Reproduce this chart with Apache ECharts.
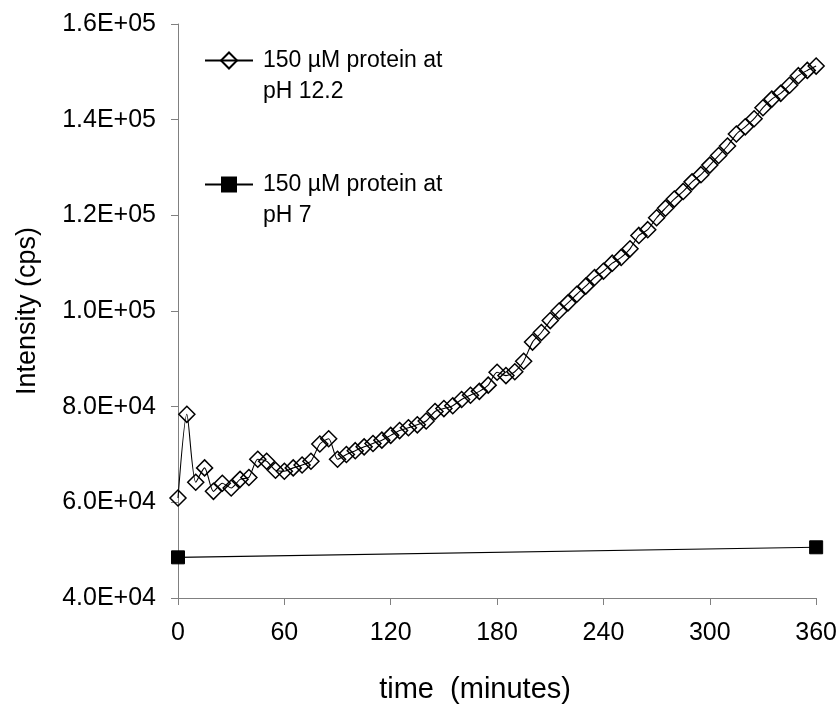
<!DOCTYPE html>
<html>
<head>
<meta charset="utf-8">
<script src="https://cdn.jsdelivr.net/npm/echarts@6/dist/echarts.min.js"></script>
<style>
  html, body { margin: 0; padding: 0; background: #fff; }
  #chart { width: 840px; height: 709px; }
</style>
</head>
<body>
<div id="chart"></div>
<script>
// time (minutes) and intensity (cps)
const timesHigh = [0, 5, 10, 15, 20, 25, 30, 35, 40, 45, 50, 55, 60, 65, 70, 75, 80, 85, 90, 95,
  100, 105, 110, 115, 120, 125, 130, 135, 140, 145, 150, 155, 160, 165, 170, 175, 180, 185, 190, 195,
  200, 205, 210, 215, 220, 225, 230, 235, 240, 245, 250, 255, 260, 265, 270, 275, 280, 285, 290, 295,
  300, 305, 310, 315, 320, 325, 330, 335, 340, 345, 350, 355, 360];
const intensityHigh = [60900, 78400, 64200, 67200, 62300, 64000, 63000, 64800, 65200, 69000,
  68600, 66700, 66500, 67200, 67800, 68600, 72200, 73300, 69000, 70000,
  70800, 71600, 72300, 73000, 74000, 75000, 75600, 76200, 77000, 79000,
  79600, 80200, 81500, 82400, 83200, 84500, 87200, 86500, 87300, 89500,
  93500, 95500, 98000, 100000, 101700, 103500, 105200, 107000, 108300, 110000,
  111200, 113000, 115800, 117000, 119500, 121500, 123400, 125000, 127000, 128500,
  130500, 132500, 134500, 137000, 138500, 140200, 142500, 144300, 145500, 147200,
  149200, 150300, 151200];

const timesNeutral = [0, 360];
const intensityNeutral = [48500, 50600];

const xTicks = [0, 60, 120, 180, 240, 300, 360];
const yTicks = [40000, 60000, 80000, 100000, 120000, 140000, 160000];

const nameHigh = '150 µM protein at\npH 12.2';
const nameNeutral = '150 µM protein at\npH 7';

const font = 'Liberation Sans, Arial, sans-serif';

function sci(v) {
  const e = Math.floor(Math.log10(v));
  const m = v / Math.pow(10, e);
  return m.toFixed(1) + 'E+' + String(e).padStart(2, '0');
}

// empty first line so the legend symbol sits beside the first text line
function legendText(name) {
  return '{g|}\n' + name.split('\n').map(s => '{t|' + s + '}').join('\n');
}

const chart = echarts.init(document.getElementById('chart'), null, { renderer: 'canvas' });
chart.setOption({
  animation: false,
  backgroundColor: '#fff',
  grid: { left: 178, right: 23, top: 24, bottom: 110 },
  legend: {
    left: 204, top: 14, orient: 'vertical', padding: 0,
    itemWidth: 48, itemHeight: 20, itemGap: 35,
    formatter: legendText,
    textStyle: {
      fontFamily: font, fontSize: 23, color: '#000',
      rich: {
        g: { height: 31, lineHeight: 31, fontSize: 23 },
        t: { fontFamily: font, fontSize: 23, lineHeight: 31, color: '#000', padding: [0, 0, 0, 5] }
      }
    },
    data: [nameHigh, nameNeutral]
  },
  xAxis: {
    type: 'value', min: xTicks[0], max: xTicks[xTicks.length - 1], interval: 60,
    name: '{a|time  (minutes)}{b|}', nameLocation: 'middle', nameGap: 77,
    nameTextStyle: {
      fontFamily: font, fontSize: 29, color: '#000',
      rich: { a: { fontFamily: font, fontSize: 29, color: '#000' }, b: { width: 44 } }
    },
    axisLine: { lineStyle: { color: '#808080', width: 1 } },
    axisTick: { inside: false, length: 7, lineStyle: { color: '#808080' } },
    axisLabel: { fontFamily: font, fontSize: 25, color: '#000', margin: 23 },
    splitLine: { show: false }
  },
  yAxis: {
    type: 'value', min: yTicks[0], max: yTicks[yTicks.length - 1], interval: 20000,
    name: 'Intensity (cps)', nameLocation: 'middle', nameGap: 137,
    nameTextStyle: { fontFamily: font, fontSize: 27, color: '#000' },
    axisLine: { show: true, lineStyle: { color: '#808080', width: 1 } },
    axisTick: { show: true, inside: false, length: 7, lineStyle: { color: '#808080' } },
    axisLabel: { fontFamily: font, fontSize: 25, color: '#000', margin: 22, formatter: sci },
    splitLine: { show: false }
  },
  series: [
    {
      name: nameHigh, type: 'line', smooth: 0.25, clip: false,
      data: timesHigh.map((t, i) => [t, intensityHigh[i]]),
      symbol: 'diamond', symbolSize: 16,
      lineStyle: { color: '#000', width: 1.1 },
      itemStyle: { color: 'rgba(255,255,255,0)', borderColor: '#000', borderWidth: 1.5 }
    },
    {
      name: nameNeutral, type: 'line', clip: false,
      data: timesNeutral.map((t, i) => [t, intensityNeutral[i]]),
      symbol: 'rect', symbolSize: 13,
      lineStyle: { color: '#000', width: 1.1 },
      itemStyle: { color: '#000', borderColor: '#000' }
    }
  ]
});
</script>
</body>
</html>
